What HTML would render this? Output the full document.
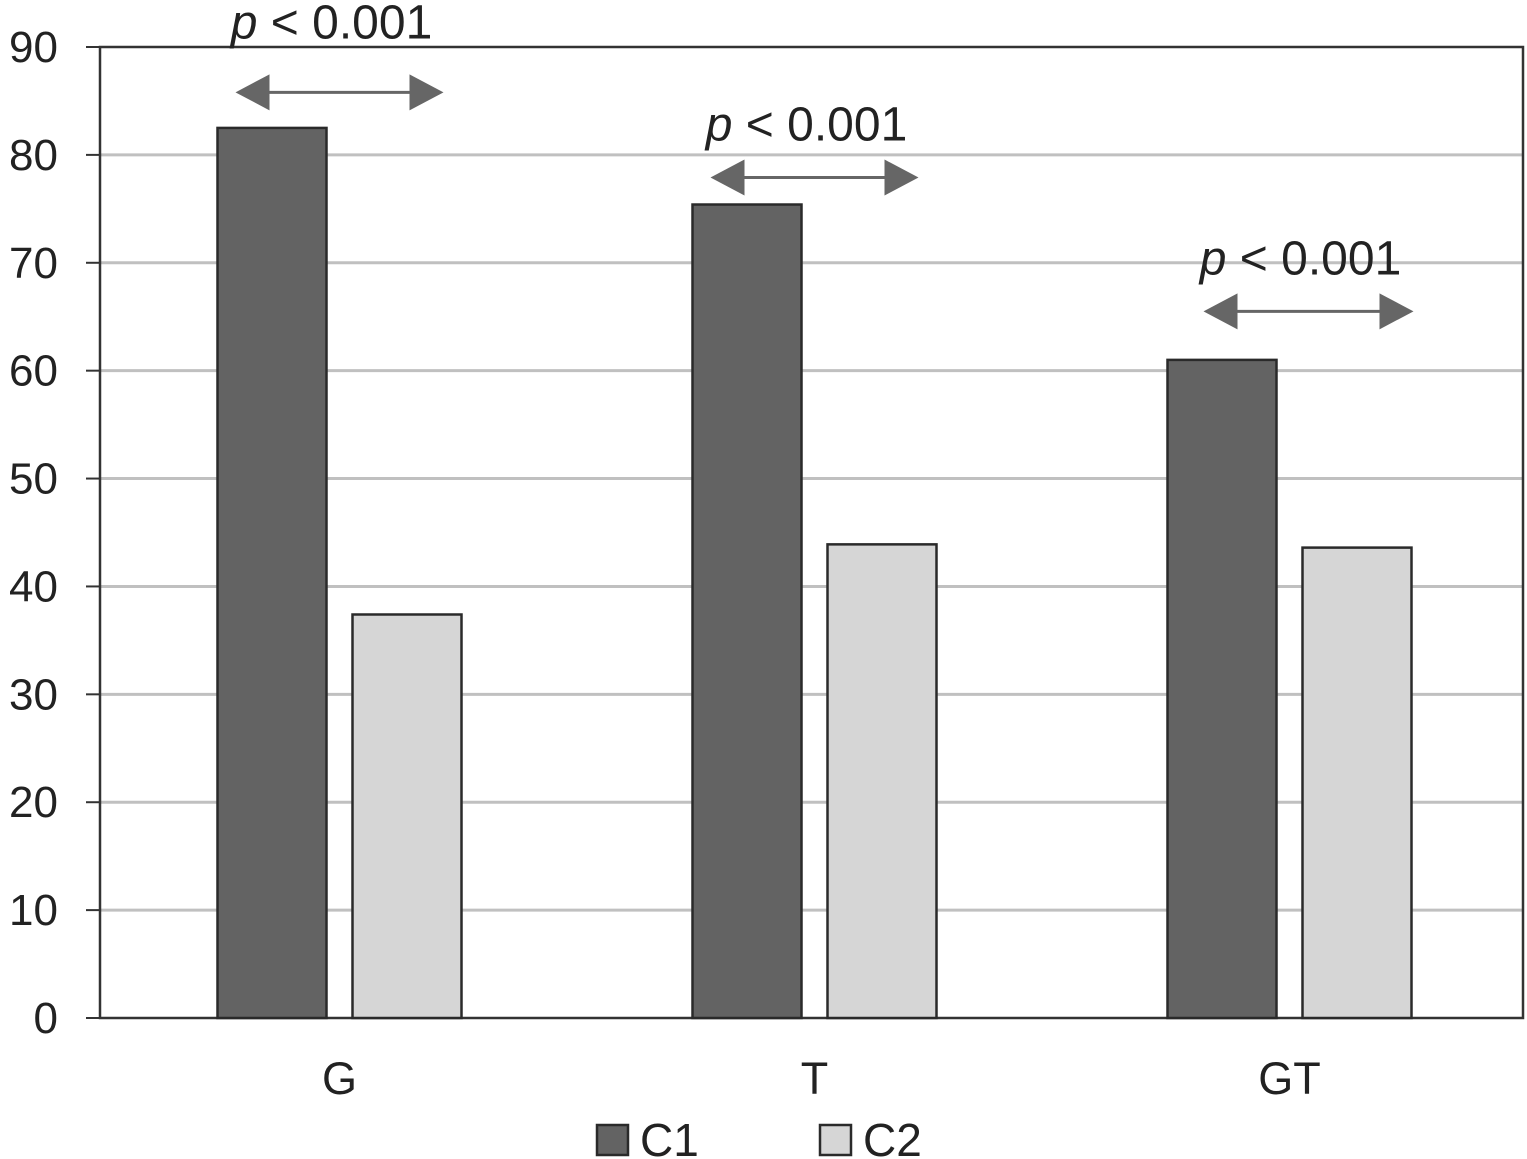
<!DOCTYPE html>
<html><head><meta charset="utf-8"><style>
html,body{margin:0;padding:0;background:#fff;}
svg{display:block;font-family:"Liberation Sans","DejaVu Sans",sans-serif;}
</style></head><body>
<svg id="chart" width="1527" height="1159" viewBox="0 0 1527 1159"></svg>
<script>
const categories = ["G","T","GT"];
const seriesNames = ["C1","C2"];
const c1Values = [82.5, 75.4, 61.0];
const c2Values = [37.4, 43.9, 43.6];
const arrowValues = [85.8, 77.9, 65.5];
const pLabels = ["p < 0.001","p < 0.001","p < 0.001"];
const yTicks = [0,10,20,30,40,50,60,70,80,90];

const NS="http://www.w3.org/2000/svg";
const svg=document.getElementById('chart');
const L=100,R=1523,T=47,B=1018,yMax=90;
const y=v=>B-(v/yMax)*(B-T);
const bandW=475;
const cx=i=>339.5+bandW*i;
function mk(tag,attrs,parent){const e=document.createElementNS(NS,tag);for(const k in attrs)e.setAttribute(k,attrs[k]);(parent||svg).appendChild(e);return e;}

yTicks.forEach(t=>{
  if(t>0&&t<yMax){const g=mk('line',{x1:L,x2:R,y1:y(t),y2:y(t),stroke:'#c0c0c0','stroke-width':3});
  
  }
  mk('line',{x1:L-14,x2:L,y1:y(t),y2:y(t),stroke:'#333','stroke-width':2});
  const tx=mk('text',{x:58,y:y(t)+15,'text-anchor':'end','font-size':44,fill:'#222'});
  tx.textContent=t;
  
  
});
const frame=mk('rect',{x:L,y:T,width:R-L,height:B-T,fill:'none',stroke:'#333','stroke-width':2.5});



const bw=109,gap=13;
categories.forEach((c,i)=>{
  const x0=cx(i);
  const b1=mk('rect',{x:x0-gap-bw,y:y(c1Values[i]),width:bw,height:B-y(c1Values[i]),fill:'#636363',stroke:'#2a2a2a','stroke-width':2.5});
  
  
  const b2=mk('rect',{x:x0+gap,y:y(c2Values[i]),width:bw,height:B-y(c2Values[i]),fill:'#d6d6d6',stroke:'#2a2a2a','stroke-width':2.5});
  
  
  const lb=mk('text',{x:x0,y:1094,'text-anchor':'middle','font-size':45,fill:'#222'});
  lb.textContent=c;
  
  
  const ay=y(arrowValues[i]);
  const ax1=x0-gap-bw+18+(i==2?18:0), ax2=x0+gap+bw-18+(i==2?20:0);
  const g=mk('g',{});
  
  
  mk('line',{x1:ax1+30,x2:ax2-30,y1:ay,y2:ay,stroke:'#666','stroke-width':3},g);
  mk('polygon',{points:`${ax1},${ay} ${ax1+34},${ay-18} ${ax1+34},${ay+18}`,fill:'#666'},g);
  mk('polygon',{points:`${ax2},${ay} ${ax2-34},${ay-18} ${ax2-34},${ay+18}`,fill:'#666'},g);
  const pt=mk('text',{x:(ax1+ax2)/2-8,y:ay-(ay<100?54:37),'text-anchor':'middle','font-size':48,fill:'#222'});
  pt.innerHTML='<tspan font-style="italic">'+pLabels[i].slice(0,1)+'</tspan>'+pLabels[i].slice(1);
  
  
});

const legX=[597,820], fills=['#636363','#d6d6d6'];
seriesNames.forEach((s,i)=>{
  const g=mk('g',{});
  
  
  mk('rect',{x:legX[i],y:1125,width:31,height:30,fill:fills[i],stroke:'#2a2a2a','stroke-width':2.5},g);
  const t=mk('text',{x:legX[i]+43,y:1156,'font-size':46,fill:'#222'},g);
  t.textContent=s;
});
</script>
</body></html>
